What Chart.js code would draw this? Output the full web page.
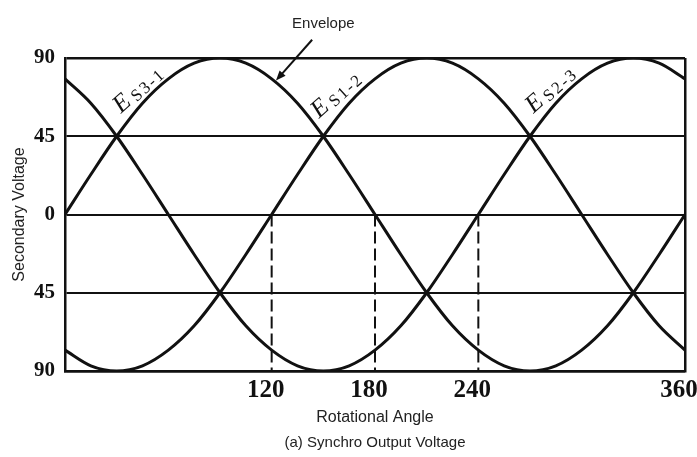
<!DOCTYPE html>
<html>
<head>
<meta charset="utf-8">
<script src="https://cdn.jsdelivr.net/npm/chart.js@4/dist/chart.umd.min.js"></script>
<style>
  html, body { margin: 0; padding: 0; background: #fff; }
  #wrap { width: 697px; height: 457px; }
</style>
</head>
<body>
<div id="wrap"><canvas id="c" width="697" height="457"></canvas></div>
<script>
// Rotational angle (degrees) at which each secondary voltage is sampled
const angles = [0, 15, 30, 45, 60, 75, 90, 105, 120, 135, 150, 165, 180,
                195, 210, 225, 240, 255, 270, 285, 300, 315, 330, 345, 360];

// Secondary voltages of the three stator windings
const es31 = [0, 23, 45, 64, 78, 87, 90, 87, 78, 64, 45, 23, 0,
              -23, -45, -64, -78, -87, -90, -87, -78, -64, -45, -23, 0];
const es12 = [-78, -87, -90, -87, -78, -64, -45, -23, 0, 23, 45, 64, 78,
              87, 90, 87, 78, 64, 45, 23, 0, -23, -45, -64, -78];
const es23 = [78, 64, 45, 23, 0, -23, -45, -64, -78, -87, -90, -87, -78,
              -64, -45, -23, 0, 23, 45, 64, 78, 87, 90, 87, 78];

// Winding subscripts written next to each curve
const windingNames = ['S3-1', 'S1-2', 'S2-3'];

// Angles where a voltage passes through zero, marked with dashed drops
const zeroCrossings = [120, 180, 240];

// Axis ticks
const xTickValues = [0, 120, 180, 240, 360];
const xTickLabels = ['', '120', '180', '240', '360'];
const yTickValues = [90, 45, 0, -45, -90];
const yTickLabels = ['90', '45', '0', '45', '90'];

const INK = '#111';

function curve(values) {
  return {
    data: angles.map((a, i) => ({ x: a, y: values[i] })),
    borderColor: INK,
    borderWidth: 3,
    pointRadius: 0,
    cubicInterpolationMode: 'monotone',
    fill: false
  };
}

const drops = zeroCrossings.map(a => ({
  data: [{ x: a, y: 0 }, { x: a, y: -90 }],
  borderColor: INK,
  borderWidth: 2,
  borderDash: [12, 5],
  pointRadius: 0,
  fill: false
}));

// Curve names, the "Envelope" note and its arrow
const notes = {
  id: 'notes',
  afterDatasetsDraw(chart) {
    const { ctx, scales: { x, y } } = chart;
    ctx.save();
    ctx.fillStyle = INK;
    ctx.strokeStyle = INK;
    ctx.textBaseline = 'alphabetic';
    ctx.textAlign = 'left';

    const anchors = [[32.5, 58], [147.5, 55], [272, 58]];
    windingNames.forEach((name, i) => {
      const px = x.getPixelForValue(anchors[i][0]);
      const py = y.getPixelForValue(anchors[i][1]);
      ctx.save();
      ctx.translate(px, py);
      ctx.rotate(-42 * Math.PI / 180);
      ctx.font = 'italic 25px "Liberation Serif"';
      ctx.fillText('E', 0, 0);
      const w = ctx.measureText('E').width;
      ctx.font = '17px "Liberation Serif"';
      ctx.letterSpacing = '2px';
      ctx.fillText(name, w + 4, 2);
      ctx.restore();
    });

    // Envelope label
    ctx.font = '15px "Liberation Sans"';
    ctx.textAlign = 'center';
    ctx.fillStyle = '#222';
    ctx.fillText('Envelope', x.getPixelForValue(150), y.getPixelForValue(107));

    // Arrow pointing at the envelope
    const x0 = x.getPixelForValue(143.5), y0 = y.getPixelForValue(100.5);
    const x1 = x.getPixelForValue(122.5), y1 = y.getPixelForValue(77);
    const ang = Math.atan2(y1 - y0, x1 - x0);
    ctx.lineWidth = 2;
    ctx.beginPath();
    ctx.moveTo(x0, y0);
    ctx.lineTo(x1 - 6 * Math.cos(ang), y1 - 6 * Math.sin(ang));
    ctx.stroke();
    ctx.beginPath();
    ctx.moveTo(x1, y1);
    ctx.lineTo(x1 - 10 * Math.cos(ang) + 4 * Math.sin(ang), y1 - 10 * Math.sin(ang) - 4 * Math.cos(ang));
    ctx.lineTo(x1 - 10 * Math.cos(ang) - 4 * Math.sin(ang), y1 - 10 * Math.sin(ang) + 4 * Math.cos(ang));
    ctx.closePath();
    ctx.fillStyle = INK;
    ctx.fill();
    ctx.restore();
  }
};

new Chart(document.getElementById('c'), {
  type: 'line',
  data: {
    datasets: [curve(es31), curve(es12), curve(es23), ...drops]
  },
  plugins: [notes],
  options: {
    responsive: false,
    animation: false,
    devicePixelRatio: 1,
    layout: { padding: { top: 58, right: 12, left: 0, bottom: 0 } },
    plugins: {
      legend: { display: false },
      tooltip: { enabled: false },
      title: {
        display: true,
        position: 'bottom',
        fullSize: false,
        text: '(a) Synchro Output Voltage',
        color: '#222',
        font: { family: 'Liberation Sans', size: 15, weight: 'normal' },
        padding: { top: 0, bottom: 5 }
      }
    },
    scales: {
      x: {
        type: 'linear',
        min: 0,
        max: 360,
        afterBuildTicks: s => { s.ticks = xTickValues.map(v => ({ value: v })); },
        afterFit: s => { s.height = 63; s.paddingLeft = 0; s.paddingRight = 0; },
        ticks: {
          autoSkip: false,
          maxRotation: 0,
          padding: 5,
          labelOffset: -6,
          color: INK,
          font: { family: 'Liberation Serif', size: 25, weight: 'bold' },
          callback: v => xTickLabels[xTickValues.indexOf(v)]
        },
        grid: {
          drawTicks: false,
          lineWidth: 2.5,
          color: c => (c.tick && c.tick.value === 360) ? INK : 'rgba(0,0,0,0)'
        },
        border: { display: true, color: INK, width: 2.5 },
        title: {
          display: true,
          text: 'Rotational Angle',
          color: '#222',
          font: { family: 'Liberation Sans', size: 16 },
          padding: { top: 0, bottom: 7 }
        }
      },
      y: {
        min: -90,
        max: 90,
        afterBuildTicks: s => { s.ticks = yTickValues.map(v => ({ value: v })); },
        afterFit: s => { s.width = 65; },
        ticks: {
          padding: 10,
          color: INK,
          font: { family: 'Liberation Serif', size: 21, weight: 'bold' },
          callback: v => yTickLabels[yTickValues.indexOf(v)]
        },
        grid: {
          drawTicks: false,
          color: INK,
          lineWidth: c => (c.tick && Math.abs(c.tick.value) === 90) ? 2.5 : 2
        },
        border: { display: true, color: INK, width: 2.5 },
        title: {
          display: true,
          text: 'Secondary Voltage',
          color: '#222',
          font: { family: 'Liberation Sans', size: 16 },
          padding: { top: 10, bottom: 0 }
        }
      }
    }
  }
});
</script>
</body>
</html>
